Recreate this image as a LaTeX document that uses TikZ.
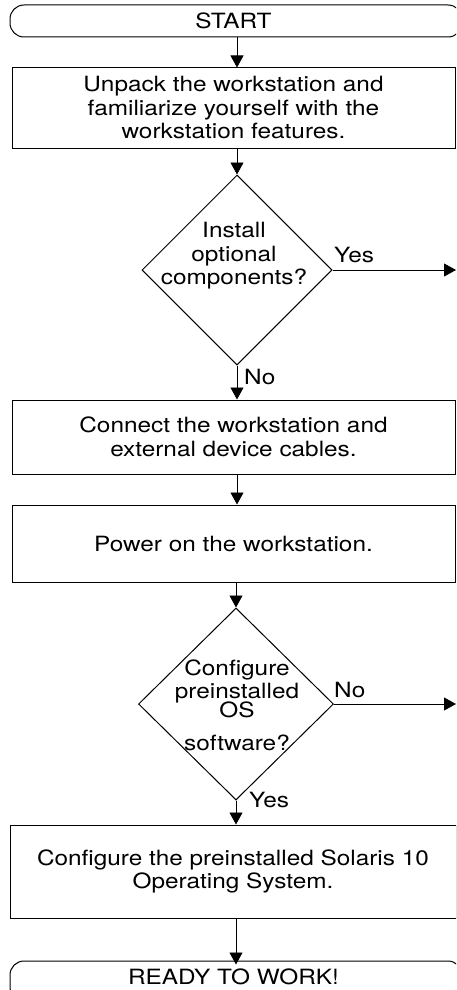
\documentclass[tikz,border=0pt]{standalone}
\usepackage{fontspec}
\setmainfont{TeX Gyre Heros}[FakeStretch=1.16]
\usetikzlibrary{shapes.geometric,arrows.meta}
\begin{document}
\begin{tikzpicture}[x=1pt,y=-1pt,
  every node/.style={font=\fontsize{21}{23.5}\selectfont, inner sep=0pt},
  stepbox/.style={draw, line width=1pt, align=center},
  termbox/.style={draw, line width=1pt, rounded corners=14pt, align=center},
  decbox/.style={draw, line width=1pt, diamond, aspect=1},
  lbl/.style={anchor=west, text height=15pt, text depth=0pt},
  arr/.style={line width=0.8pt, -{Triangle[length=12pt,width=13pt]}}]
\useasboundingbox (0,0) rectangle (456,990);
\clip (0,0) rectangle (456,990);
% nodes
\node[termbox, minimum width=452pt, minimum height=32pt, text height=15pt, text depth=0pt] (start) at (236,21) {\hspace*{-5pt}START};
\node[stepbox, minimum width=443pt, minimum height=80pt] (b1) at (233.5,108)
  {Unpack the workstation and\\familiarize yourself with the\\workstation features.};
\node[decbox, minimum width=190pt, minimum height=190pt] (d1) at (237,270) {};
\node[align=center] (d1t) at (234,256) {Install\\optional\\components?};
\node[stepbox, minimum width=443pt, minimum height=74pt] (b2) at (233.5,437)
  {Connect the workstation and\\external device cables.};
\node[stepbox, minimum width=443pt, minimum height=77pt] (b3) at (233.5,543.5)
  {Power on the workstation.};
\node[decbox, minimum width=195pt, minimum height=192pt] (d2) at (236,704) {};
\node[align=center] (d2t) at (237,705) {Configure\\[-0.5pt]preinstalled\\[-4.5pt]OS\\[9.5pt]software?};
\node[stepbox, minimum width=446pt, minimum height=93pt] (b4) at (233,871.5)
  {Configure the preinstalled Solaris 10\\Operating System.};
\node[termbox, minimum width=452pt, minimum height=40pt, text height=15pt, text depth=0pt] (end) at (236,981) {\raisebox{4pt}{\hspace*{-5pt}READY TO WORK!}};
% labels
\node[lbl] (yes1) at (334,255) {Yes};
\node[lbl] (no1) at (244,377) {No};
\node[lbl] (no2) at (334,690) {No};
\node[lbl] (yes2) at (249,800) {Yes};
% free ends
\coordinate (out1) at (456,270);
\coordinate (out2) at (456,704);
% connectors
\draw[arr] (start.south -| d1.north) -- (b1.north -| d1.north);
\draw[arr] (b1.south -| d1.north) -- (d1.north);
\draw[arr] (d1.east) -- (out1);
\draw[arr] (d1.south) -- (b2.north -| d1.south);
\draw[arr] (b2.south -| d1.north) -- (b3.north -| d1.north);
\draw[arr] (b3.south -| d2.north) -- (d2.north);
\draw[arr] (d2.east) -- (out2);
\draw[arr] (d2.south) -- (b4.north -| d2.south);
\draw[arr] (b4.south -| d2.north) -- ([yshift=-4pt]end.north -| d2.north);
\end{tikzpicture}
\end{document}
